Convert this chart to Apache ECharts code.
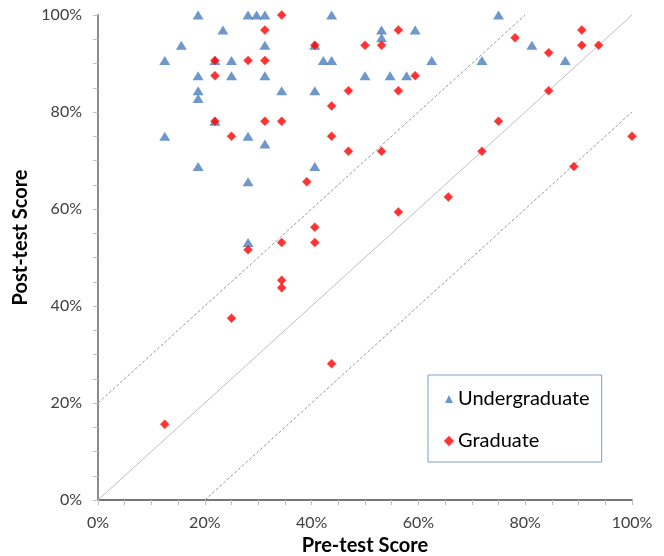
<!DOCTYPE html>
<html>
<head>
<meta charset="utf-8">
<script src="https://cdn.jsdelivr.net/npm/echarts@6/dist/echarts.min.js"></script>
<style>
html,body{margin:0;padding:0;background:#fff;}
#chart{width:664px;height:556px;}
</style>
</head>
<body>
<div id="chart"></div>
<script>
// Undergraduate (pre-test %, post-test %)
const undergradPre  = [18.75, 28.1, 29.7, 31.25, 43.75, 75, 23.4, 53.1, 53.1, 59.4, 15.6, 31.25, 40.6, 81.25, 12.5, 21.9, 25, 42.2, 43.75, 62.5, 71.9, 87.5, 18.75, 25, 31.25, 50, 54.7, 57.8, 18.75, 18.75, 34.4, 40.6, 21.9, 12.5, 28.1, 31.25, 18.75, 40.6, 28.1, 28.1];
const undergradPost = [100, 100, 100, 100, 100, 100, 96.9, 96.9, 95.3, 96.9, 93.75, 93.75, 93.75, 93.75, 90.6, 90.6, 90.6, 90.6, 90.6, 90.6, 90.6, 90.6, 87.5, 87.5, 87.5, 87.5, 87.5, 87.5, 84.4, 82.8, 84.4, 84.4, 78.1, 75, 75, 73.4, 68.75, 68.75, 65.6, 53.1];
// Graduate (pre-test %, post-test %)
const gradPre  = [34.4, 31.25, 56.25, 90.6, 78.1, 40.6, 50, 53.1, 90.6, 93.75, 84.4, 21.9, 28.1, 31.25, 21.9, 59.4, 46.9, 56.25, 84.4, 43.75, 21.9, 31.25, 34.4, 75, 25, 43.75, 100, 46.9, 53.1, 71.9, 89.1, 39.1, 65.6, 56.25, 40.6, 34.4, 40.6, 28.1, 34.4, 34.4, 25, 43.75, 12.5];
const gradPost = [100, 96.9, 96.9, 96.9, 95.3, 93.75, 93.75, 93.75, 93.75, 93.75, 92.2, 90.6, 90.6, 90.6, 87.5, 87.5, 84.4, 84.4, 84.4, 81.25, 78.1, 78.1, 78.1, 78.1, 75, 75, 75, 71.9, 71.9, 71.9, 68.75, 65.6, 62.5, 59.4, 56.25, 53.1, 53.1, 51.6, 45.3, 43.75, 37.5, 28.1, 15.6];
// Reference lines: y = x, y = x + 20, y = x - 20
const lineEqual = [[0, 0], [100, 100]];
const lineUpper = [[0, 20], [80, 100]];
const lineLower = [[20, 0], [100, 80]];
const tickLabels = [0, 20, 40, 60, 80, 100];

const zip = (a, b) => a.map((v, i) => [v, b[i]]);
const FONT = 'Lato';
const fmt = v => tickLabels.indexOf(Math.round(v)) >= 0 && Math.abs(v - Math.round(v)) < 1e-6 ? Math.round(v) + '%' : '';

const chart = echarts.init(document.getElementById('chart'), null, {renderer: 'canvas'});
chart.setOption({
  animation: false,
  backgroundColor: '#fff',
  grid: {left: 98, right: 32, top: 15, bottom: 56, containLabel: false, outerBoundsMode: 'none'},
  legend: {
    orient: 'vertical',
    left: 428, top: 375,
    padding: [12, 12, 9, 16],
    itemGap: 18,
    itemWidth: 8, itemHeight: 8,
    borderColor: '#7fa0cc', borderWidth: 1,
    textStyle: {fontFamily: FONT, fontSize: 20, color: '#000', lineHeight: 24},
    data: [{name: 'Undergraduate', icon: 'triangle'}, {name: 'Graduate', icon: 'diamond'}]
  },
  xAxis: [{
    type: 'value', min: 0, max: 100, interval: 5,
    name: 'Pre-test Score', nameLocation: 'middle', nameGap: 35,
    nameTextStyle: {fontFamily: FONT, fontSize: 20, fontWeight: 'bold', color: '#000'},
    axisLine: {lineStyle: {color: '#bfbfbf', width: 1.5}},
    axisTick: {show: true, length: 5, lineStyle: {color: '#bfbfbf', width: 1}},
    axisLabel: {formatter: fmt, fontFamily: FONT, fontSize: 16, color: '#404040', margin: 15},
    splitLine: {show: false}
  }, {
    type: 'value', min: 0, max: 100, position: 'top',
    axisLine: {show: true, lineStyle: {color: '#595959', width: 1.5}},
    axisTick: {show: false}, axisLabel: {show: false}, splitLine: {show: false}
  }],
  yAxis: [{
    type: 'value', min: 0, max: 100, interval: 5,
    name: 'Post-test Score', nameLocation: 'middle', nameGap: 60,
    nameTextStyle: {fontFamily: FONT, fontSize: 20, fontWeight: 'bold', color: '#000', padding: [0, 0, 0, 40]},
    axisLine: {show: true, lineStyle: {color: '#bfbfbf', width: 1.5}},
    axisTick: {show: true, length: 5, lineStyle: {color: '#bfbfbf', width: 1}},
    axisLabel: {formatter: fmt, fontFamily: FONT, fontSize: 16, color: '#404040', margin: 16},
    splitLine: {show: false}
  }, {
    type: 'value', min: 0, max: 100, position: 'right',
    axisLine: {show: true, lineStyle: {color: '#8c8c8c', width: 2}},
    axisTick: {show: false}, axisLabel: {show: false}, splitLine: {show: false}
  }],
  series: [
    {type: 'line', data: lineEqual, showSymbol: false, silent: true, z: 1,
     lineStyle: {color: '#bfbfbf', width: 1}},
    {type: 'line', data: lineUpper, showSymbol: false, silent: true, z: 1,
     lineStyle: {color: '#9a9a9a', width: 1, type: [3, 2]}},
    {type: 'line', data: lineLower, showSymbol: false, silent: true, z: 1,
     lineStyle: {color: '#9a9a9a', width: 1, type: [3, 2]}},
    {name: 'Undergraduate', type: 'scatter', data: zip(undergradPre, undergradPost),
     symbol: 'triangle', symbolSize: [11, 9], z: 3,
     itemStyle: {color: '#4a7ebb'}},
    {name: 'Graduate', type: 'scatter', data: zip(gradPre, gradPost),
     symbol: 'diamond', symbolSize: 9, z: 4,
     itemStyle: {color: '#ff0000', borderColor: '#ff3030', borderWidth: 0.5}}
  ]
});
</script>
</body>
</html>
